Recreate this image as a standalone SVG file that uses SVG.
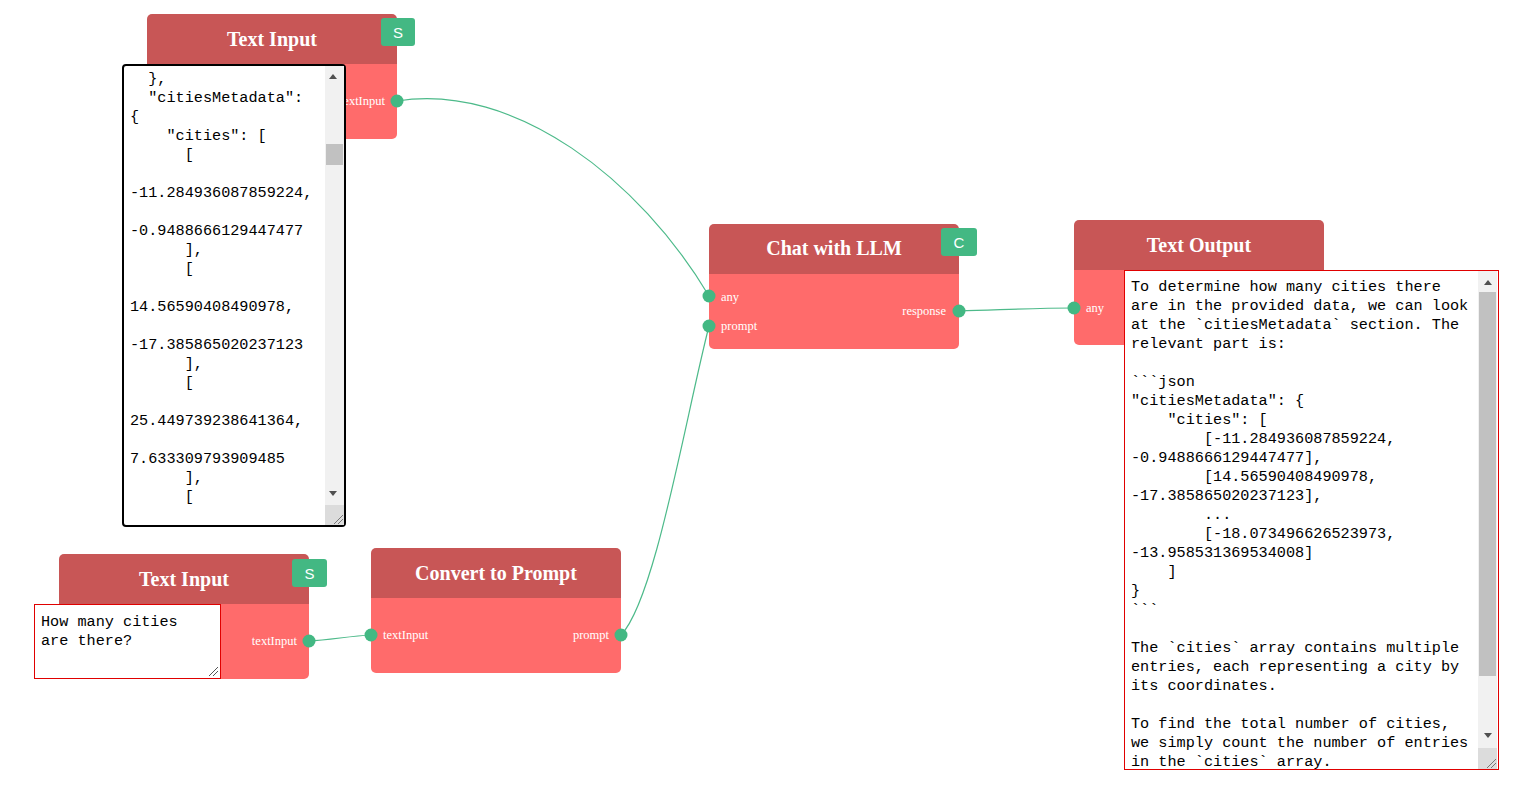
<svg xmlns="http://www.w3.org/2000/svg" width="1526" height="789" viewBox="0 0 1526 789">
<style>
.hdr{fill:#C85656}
.body{fill:#FF6B6B}
.title{font-family:"Liberation Serif",serif;font-weight:bold;font-size:20px;fill:#fff;text-anchor:middle}
.plab{font-family:"Liberation Serif",serif;font-size:12.5px;fill:#fff}
.port{fill:#43B883}
.badge{fill:#43B883}
.btxt{font-family:"Liberation Sans",sans-serif;font-size:15px;fill:#fff;text-anchor:middle}
.mono{font-family:"Liberation Mono","DejaVu Sans Mono",monospace;font-size:15.2px;fill:#000;white-space:pre}
.wire{fill:none;stroke:#4DBA8A;stroke-width:1.2}
.track{fill:#F1F1F1}
.thumb{fill:#C1C1C1}
.arrow{fill:#505050}
.corner{fill:#DCDCDC}
</style>
<defs>
<clipPath id="clipA"><rect x="124" y="66" width="201" height="459"/></clipPath>
<clipPath id="clipB"><rect x="1125" y="271" width="353" height="498"/></clipPath>
<clipPath id="clipC"><rect x="35" y="605" width="185" height="73"/></clipPath>
</defs>
<g id="connectors">
<path class="wire" d="M397,101 C515,82 640,180 709,296"/>
<path class="wire" d="M959,311 C1000,310 1030,308 1074,308"/>
<path class="wire" d="M309,641 C330,640 350,636 371,635"/>
<path class="wire" d="M621,635 C655,600 685,420 709,326"/>
</g>
<g id="node-text-input-1">
<path class="body" d="M147,64 H397 V134 a5,5 0 0 1 -5,5 H152 a5,5 0 0 1 -5,-5 Z"/>
<path class="hdr" d="M152,14 H392 a5,5 0 0 1 5,5 V64 H147 V19 a5,5 0 0 1 5,-5 Z"/>
<text class="title" x="272" y="46">Text Input</text>
<rect class="badge" x="381" y="18" width="34" height="28" rx="3"/>
<text class="btxt" x="398" y="38">S</text>
<text class="plab" x="385" y="105" text-anchor="end">textInput</text>
<circle class="port" cx="397" cy="101" r="6.5"/>
<rect x="123" y="65" width="222" height="461" rx="3" fill="#fff" stroke="#000" stroke-width="2"/>
<g clip-path="url(#clipA)">
<text class="mono" x="130" y="83">  },</text>
<text class="mono" x="130" y="102">  "citiesMetadata":</text>
<text class="mono" x="130" y="121">{</text>
<text class="mono" x="130" y="140">    "cities": [</text>
<text class="mono" x="130" y="159">      [</text>
<text class="mono" x="130" y="197">-11.284936087859224,</text>
<text class="mono" x="130" y="235">-0.9488666129447477</text>
<text class="mono" x="130" y="254">      ],</text>
<text class="mono" x="130" y="273">      [</text>
<text class="mono" x="130" y="311">14.56590408490978,</text>
<text class="mono" x="130" y="349">-17.385865020237123</text>
<text class="mono" x="130" y="368">      ],</text>
<text class="mono" x="130" y="387">      [</text>
<text class="mono" x="130" y="425">25.449739238641364,</text>
<text class="mono" x="130" y="463">7.633309793909485</text>
<text class="mono" x="130" y="482">      ],</text>
<text class="mono" x="130" y="501">      [</text>
</g>
<rect class="track" x="325" y="66" width="19" height="459"/>
<rect class="thumb" x="326" y="144" width="17" height="21"/>
<path class="arrow" d="M329,79 L337,79 L333,74 Z"/>
<path class="arrow" d="M329,491 L337,491 L333,496 Z"/>
<rect class="corner" x="325" y="505" width="19" height="20"/>
<path d="M334,524 L343,515 M338,524 L343,519" stroke="#777" stroke-width="1"/>
</g>
<g id="node-text-input-2">
<path class="body" d="M59,604 H309 V674 a5,5 0 0 1 -5,5 H64 a5,5 0 0 1 -5,-5 Z"/>
<path class="hdr" d="M64,554 H304 a5,5 0 0 1 5,5 V604 H59 V559 a5,5 0 0 1 5,-5 Z"/>
<text class="title" x="184" y="586">Text Input</text>
<rect class="badge" x="292" y="559" width="35" height="28" rx="3"/>
<text class="btxt" x="309.5" y="579">S</text>
<text class="plab" x="297" y="645" text-anchor="end">textInput</text>
<circle class="port" cx="309" cy="641" r="6.5"/>
<rect x="34.5" y="604.5" width="186" height="74" fill="#fff" stroke="#E00000" stroke-width="1"/>
<g clip-path="url(#clipC)">
<text class="mono" x="41" y="626">How many cities</text>
<text class="mono" x="41" y="645">are there?</text>
</g>
<path d="M209,676 L218,667 M213,676 L218,671" stroke="#555" stroke-width="1"/>
</g>
<g id="node-convert-to-prompt">
<path class="body" d="M371,598 H621 V668 a5,5 0 0 1 -5,5 H376 a5,5 0 0 1 -5,-5 Z"/>
<path class="hdr" d="M376,548 H616 a5,5 0 0 1 5,5 V598 H371 V553 a5,5 0 0 1 5,-5 Z"/>
<text class="title" x="496" y="580">Convert to Prompt</text>
<text class="plab" x="383" y="639">textInput</text>
<text class="plab" x="609" y="639" text-anchor="end">prompt</text>
<circle class="port" cx="371" cy="635" r="6.5"/>
<circle class="port" cx="621" cy="635" r="6.5"/>
</g>
<g id="node-chat-with-llm">
<path class="body" d="M709,274 H959 V344 a5,5 0 0 1 -5,5 H714 a5,5 0 0 1 -5,-5 Z"/>
<path class="hdr" d="M714,224 H954 a5,5 0 0 1 5,5 V274 H709 V229 a5,5 0 0 1 5,-5 Z"/>
<text class="title" x="834" y="255">Chat with LLM</text>
<rect class="badge" x="941" y="228" width="36" height="28" rx="3"/>
<text class="btxt" x="959" y="248">C</text>
<text class="plab" x="721" y="301">any</text>
<text class="plab" x="721" y="330">prompt</text>
<text class="plab" x="946" y="315" text-anchor="end">response</text>
<circle class="port" cx="709" cy="296" r="6.5"/>
<circle class="port" cx="709" cy="326" r="6.5"/>
<circle class="port" cx="959" cy="311" r="6.5"/>
</g>
<g id="node-text-output">
<path class="body" d="M1074,270 H1324 V340 a5,5 0 0 1 -5,5 H1079 a5,5 0 0 1 -5,-5 Z"/>
<path class="hdr" d="M1079,220 H1319 a5,5 0 0 1 5,5 V270 H1074 V225 a5,5 0 0 1 5,-5 Z"/>
<text class="title" x="1199" y="252">Text Output</text>
<text class="plab" x="1086" y="312">any</text>
<circle class="port" cx="1074" cy="308" r="6.5"/>
<rect x="1124.5" y="270.5" width="374" height="499" fill="#fff" stroke="#E00000" stroke-width="1"/>
<g clip-path="url(#clipB)">
<text class="mono" x="1131" y="291">To determine how many cities there</text>
<text class="mono" x="1131" y="310">are in the provided data, we can look</text>
<text class="mono" x="1131" y="329">at the `citiesMetadata` section. The</text>
<text class="mono" x="1131" y="348">relevant part is:</text>
<text class="mono" x="1131" y="386">```json</text>
<text class="mono" x="1131" y="405">"citiesMetadata": {</text>
<text class="mono" x="1131" y="424">    "cities": [</text>
<text class="mono" x="1131" y="443">        [-11.284936087859224,</text>
<text class="mono" x="1131" y="462">-0.9488666129447477],</text>
<text class="mono" x="1131" y="481">        [14.56590408490978,</text>
<text class="mono" x="1131" y="500">-17.385865020237123],</text>
<text class="mono" x="1131" y="519">        ...</text>
<text class="mono" x="1131" y="538">        [-18.073496626523973,</text>
<text class="mono" x="1131" y="557">-13.958531369534008]</text>
<text class="mono" x="1131" y="576">    ]</text>
<text class="mono" x="1131" y="595">}</text>
<text class="mono" x="1131" y="614">```</text>
<text class="mono" x="1131" y="652">The `cities` array contains multiple</text>
<text class="mono" x="1131" y="671">entries, each representing a city by</text>
<text class="mono" x="1131" y="690">its coordinates.</text>
<text class="mono" x="1131" y="728">To find the total number of cities,</text>
<text class="mono" x="1131" y="747">we simply count the number of entries</text>
<text class="mono" x="1131" y="766">in the `cities` array.</text>
</g>
<rect class="track" x="1478" y="271" width="19" height="498"/>
<rect class="thumb" x="1479" y="292" width="17" height="384"/>
<path class="arrow" d="M1484,285 L1492,285 L1488,280 Z"/>
<path class="arrow" d="M1484,733 L1492,733 L1488,738 Z"/>
<rect class="corner" x="1478" y="748" width="19" height="21"/>
<path d="M1487,768 L1496,759 M1491,768 L1496,763" stroke="#777" stroke-width="1"/>
</g>
</svg>
